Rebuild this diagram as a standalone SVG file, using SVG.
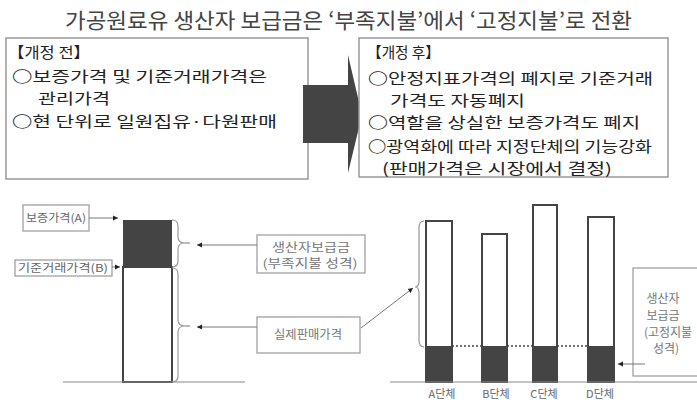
<svg xmlns="http://www.w3.org/2000/svg" width="697" height="406" viewBox="0 0 697 406">
<style>
.t{font-family:"Noto Sans CJK KR","Noto Sans",sans-serif;}
.title{font-size:21px;fill:#444;}
.body{font-size:15px;fill:#222;}
.ring{font-weight:bold;}
.lbl{font-size:11px;fill:#666;}
.mid{font-size:12px;fill:#777;}
.box{fill:#fff;stroke:#999;stroke-width:1.5;}
.sbox{fill:#fff;stroke:#999;stroke-width:1.2;}
.dark{fill:#444;}
.bar{fill:#fff;stroke:#444;stroke-width:2;}
.ln{fill:none;stroke:#777;stroke-width:1;}
.brace{fill:none;stroke:#999;stroke-width:1.2;}
.base{stroke:#888;stroke-width:1.2;}
</style>
<defs>
<marker id="ah" markerWidth="6" markerHeight="6" refX="5" refY="3" orient="auto" markerUnits="userSpaceOnUse">
<path d="M0,0.5 L5,3 L0,5.5 Z" fill="#222"/>
</marker>
</defs>
<rect width="697" height="406" fill="#fff"/>

<g id="title">
<text class="t title" x="65" y="28" textLength="567" lengthAdjust="spacingAndGlyphs">가공원료유 생산자 보급금은 ‘부족지불’에서 ‘고정지불’로 전환</text>
</g>

<g id="before">
<rect class="box" x="6" y="38" width="302" height="141"/>
<text class="t body" x="8" y="58" textLength="82" lengthAdjust="spacingAndGlyphs">【개정 전】</text>
<text class="t body" x="12" y="82" textLength="255" lengthAdjust="spacingAndGlyphs"><tspan class="ring">○</tspan>보증가격 및 기준거래가격은</text>
<text class="t body" x="38" y="104" textLength="72" lengthAdjust="spacingAndGlyphs">관리가격</text>
<text class="t body" x="12" y="127" textLength="265" lengthAdjust="spacingAndGlyphs"><tspan class="ring">○</tspan>현 단위로 일원집유·다원판매</text>
</g>

<g id="bigarrow">
<path class="dark" d="M303,85 L348,85 L348,55 L362,115 L348,173 L348,143 L303,143 Z"/>
</g>

<g id="after">
<rect class="box" x="359" y="38" width="309" height="139"/>
<text class="t body" x="367" y="58" textLength="73" lengthAdjust="spacingAndGlyphs">【개정 후】</text>
<text class="t body" x="368" y="84" textLength="285" lengthAdjust="spacingAndGlyphs"><tspan class="ring">○</tspan>안정지표가격의 폐지로 기준거래</text>
<text class="t body" x="390" y="106" textLength="135" lengthAdjust="spacingAndGlyphs">가격도 자동폐지</text>
<text class="t body" x="368" y="128" textLength="272" lengthAdjust="spacingAndGlyphs"><tspan class="ring">○</tspan>역할을 상실한 보증가격도 폐지</text>
<text class="t body" x="368" y="152" textLength="284" lengthAdjust="spacingAndGlyphs"><tspan class="ring">○</tspan>광역화에 따라 지정단체의 기능강화</text>
<text class="t body" x="382" y="174" textLength="230" lengthAdjust="spacingAndGlyphs">(판매가격은 시장에서 결정)</text>
</g>

<g id="leftbar">
<rect class="dark" x="123" y="220" width="49" height="47"/>
<rect class="bar" x="123" y="267" width="49" height="115"/>
</g>

<g id="labelA">
<rect class="sbox" x="23" y="205" width="66" height="26"/>
<text class="t lbl" x="56" y="222" text-anchor="middle" textLength="60" lengthAdjust="spacingAndGlyphs">보증가격(A)</text>
</g>

<g id="labelB">
<rect class="sbox" x="15" y="260" width="97" height="16"/>
<text class="t lbl" x="63" y="272" text-anchor="middle" textLength="90" lengthAdjust="spacingAndGlyphs">기준거래가격(B)</text>
</g>

<g id="subsidyDeficit">
<rect class="sbox" x="257" y="235" width="108" height="38"/>
<text class="t mid" x="311" y="252" text-anchor="middle" textLength="78" lengthAdjust="spacingAndGlyphs">생산자보급금</text>
<text class="t mid" x="310" y="268" text-anchor="middle" textLength="95" lengthAdjust="spacingAndGlyphs">(부족지불 성격)</text>
</g>

<g id="actualPrice">
<rect class="sbox" x="257" y="317" width="103" height="36"/>
<text class="t mid" x="308" y="339" text-anchor="middle" textLength="68" lengthAdjust="spacingAndGlyphs">실제판매가격</text>
</g>

<g id="bars">
<rect class="bar" x="426" y="221" width="26" height="161"/>
<rect class="dark" x="426" y="346" width="26" height="36"/>
<rect class="bar" x="482" y="234" width="25" height="148"/>
<rect class="dark" x="482" y="346" width="25" height="36"/>
<rect class="bar" x="533" y="205" width="24" height="177"/>
<rect class="dark" x="533" y="346" width="24" height="36"/>
<rect class="bar" x="588" y="217" width="26" height="165"/>
<rect class="dark" x="588" y="346" width="26" height="36"/>
<text class="t lbl" x="442" y="398" text-anchor="middle">A단체</text>
<text class="t lbl" x="496" y="398" text-anchor="middle">B단체</text>
<text class="t lbl" x="544" y="398" text-anchor="middle">C단체</text>
<text class="t lbl" x="600" y="398" text-anchor="middle">D단체</text>
</g>

<g id="subsidyFixed">
<rect class="sbox" x="633" y="268" width="70" height="108"/>
<text class="t mid" x="663" y="303" text-anchor="middle">생산자</text>
<text class="t mid" x="663" y="320" text-anchor="middle">보급금</text>
<text class="t mid" x="668" y="337" text-anchor="middle">(고정지불</text>
<text class="t mid" x="666" y="353" text-anchor="middle">성격)</text>
</g>

<g id="connectors">
<line class="base" x1="63" y1="382" x2="245" y2="382"/>
<line class="base" x1="390" y1="382" x2="697" y2="382"/>
<path class="brace" d="M172,220 Q178,220 178,226 L178,237 Q178,243 185,243 Q178,243 178,249 L178,261 Q178,267 172,267"/>
<path class="brace" d="M172,268 Q178,268 178,274 L178,320 Q178,326 185,326 Q178,326 178,332 L178,376 Q178,382 172,382"/>
<path class="brace" d="M424,221 Q419,221 419,228 L419,281 Q419,287 415,287 Q419,287 419,293 L419,340 Q419,347 424,347"/>
<line class="ln" x1="185" y1="243" x2="190" y2="243"/>
<line class="ln" x1="185" y1="326" x2="190" y2="326"/>
<line class="ln" x1="89" y1="218" x2="118" y2="218" marker-end="url(#ah)"/>
<line class="ln" x1="112" y1="267" x2="120" y2="267" marker-end="url(#ah)"/>
<line class="ln" x1="257" y1="245" x2="197" y2="245" marker-end="url(#ah)"/>
<line class="ln" x1="257" y1="327" x2="197" y2="327" marker-end="url(#ah)"/>
<line class="ln" x1="361" y1="328" x2="413" y2="288" marker-end="url(#ah)"/>
<line class="ln" x1="645" y1="364" x2="618" y2="364" marker-end="url(#ah)"/>
<line x1="452" y1="346" x2="482" y2="346" stroke="#444" stroke-width="1.5" stroke-dasharray="2,2"/>
<line x1="507" y1="346" x2="533" y2="346" stroke="#444" stroke-width="1.5" stroke-dasharray="2,2"/>
<line x1="557" y1="346" x2="588" y2="346" stroke="#444" stroke-width="1.5" stroke-dasharray="2,2"/>
</g>
</svg>
